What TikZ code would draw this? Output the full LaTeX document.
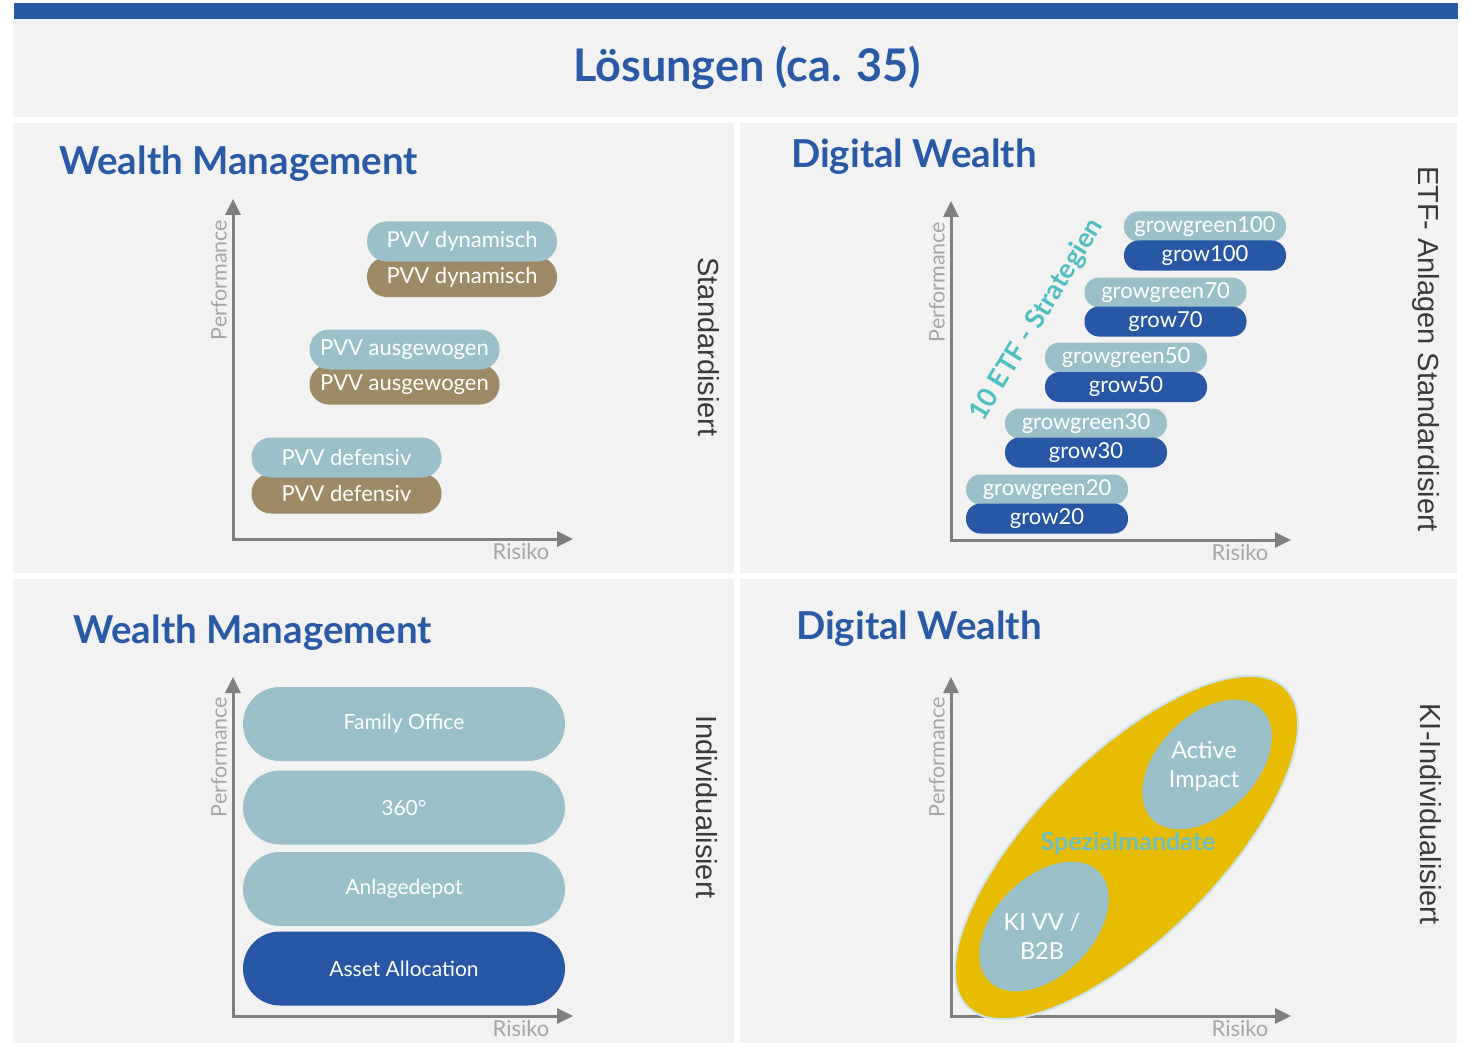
\documentclass[tikz,border=0pt]{standalone}
\usepackage{fontspec}
\setmainfont{Lato}
\newfontfamily\arialf{Liberation Sans}
\usetikzlibrary{arrows.meta,shapes.geometric}
\definecolor{panelgray}{HTML}{F2F2F2}
\definecolor{mainblue}{HTML}{2A5AA6}
\definecolor{pillteal}{HTML}{9AC0CA}
\definecolor{pillbrown}{HTML}{9E8A64}
\definecolor{pillblue}{HTML}{2858A5}
\definecolor{spyellow}{HTML}{E8BC00}
\definecolor{outlineblue}{HTML}{CFE3EE}
\definecolor{axisgray}{HTML}{7F7F7F}
\definecolor{labelgray}{HTML}{A6A6A6}
\definecolor{darklabel}{HTML}{3A3A3A}
\definecolor{etfteal}{HTML}{4FBFC2}
\definecolor{spezteal}{HTML}{6CBFC1}
\tikzset{
  panel/.style={fill=panelgray, draw=none},
  heading/.style={text=mainblue, font=\fontsize{38.5}{42}\selectfont\bfseries, inner sep=0pt, anchor=base west},
  axis/.style={draw=axisgray, line width=3pt, {Triangle[width=15pt,length=16pt]}-{Triangle[width=15pt,length=16pt]}},
  perf/.style={text=labelgray, font=\fontsize{21.5}{24}\selectfont, rotate=90, inner sep=0pt},
  risk/.style={text=labelgray, font=\fontsize{22}{24}\selectfont, inner sep=0pt},
  sidelabel/.style={text=darklabel, font=\arialf\fontsize{29}{32}\selectfont, rotate=-90, inner sep=0pt},
  pvv/.style={rectangle, rounded corners=19.5pt, minimum width=190pt, minimum height=40pt, inner sep=0pt, text=white, font=\fontsize{22}{24}\selectfont},
  etf/.style={rectangle, rounded corners=14.5pt, minimum width=162pt, minimum height=30pt, inner sep=0pt, text=white, font=\fontsize{22}{24}\selectfont},
  big/.style={rectangle, rounded corners=37pt, minimum width=322pt, minimum height=74pt, inner sep=0pt, text=white, font=\fontsize{21}{24}\selectfont},
  inner/.style={ellipse, fill=pillteal, rotate=45, minimum width=155pt, minimum height=98pt, inner sep=0pt},
  innertext/.style={text=white, font=\fontsize{23.5}{29}\selectfont, align=center, inner sep=0pt},
}
\begin{document}
\begin{tikzpicture}[x=1pt,y=-1pt]
\useasboundingbox (0,0) rectangle (1470,1043);
\fill[white] (0,0) rectangle (1470,1043);
% header
\fill[panelgray] (13,18) rectangle (1458,117);
\fill[mainblue] (14,3) rectangle (1458,19);
\node[text=mainblue, font=\fontsize{45}{48}\selectfont\bfseries, anchor=base, inner sep=0pt] (title) at (747,82) {Lösungen (ca. 35)};
% panels
\fill[panel] (13,123) rectangle (734,573);
\fill[panel] (740,123) rectangle (1457,573);
\fill[panel] (13,579) rectangle (734,1043);
\fill[panel] (740,579) rectangle (1457,1043);
% headings
\node[heading] (h1) at (59,175) {Wealth Management};
\node[heading] (h2) at (791,168) {Digital Wealth};
\node[heading] (h3) at (73,643) {Wealth Management};
\node[heading] (h4) at (796,639) {Digital Wealth};
% side labels
\node[sidelabel] (s1) at (709,347) {Standardisiert};
\node[sidelabel] (s2) at (1426,349) {ETF- Anlagen Standardisiert};
\node[sidelabel] (s3) at (707,807) {Individualisiert};
\node[sidelabel] (s4) at (1431,814) {KI-Individualisiert};

% ---------- top-left
\coordinate (tlY) at (233,199);
\coordinate (tlO) at (233,539);
\coordinate (tlX) at (573,539);
\draw[axis] (tlY) -- (tlO) -- (tlX);
\node[perf] (tlP) at (219,280) {Performance};
\node[risk] (tlR) at (521,551) {Risiko};
\node[pvv, fill=pillbrown] (dynB) at (462,277) {PVV dynamisch};
\node[pvv, fill=pillteal] (dynT) at (462,241.5) {PVV dynamisch};
\node[pvv, fill=pillbrown] (ausB) at (404.5,384.5) {PVV ausgewogen};
\node[pvv, fill=pillteal] (ausT) at (404.5,349.5) {PVV ausgewogen};
\node[pvv, fill=pillbrown] (defB) at (346.5,493.5) {PVV defensiv};
\node[pvv, fill=pillteal] (defT) at (346.5,457.5) {PVV defensiv};

% ---------- top-right
\coordinate (trY) at (951,201);
\coordinate (trO) at (951,540);
\coordinate (trX) at (1291,540);
\draw[axis] (trY) -- (trO) -- (trX);
\node[perf] (trP) at (937,282) {Performance};
\node[risk] (trR) at (1240,552) {Risiko};
\node[etf, fill=pillteal] (gg100) at (1205,226.5) {growgreen100};
\node[etf, fill=pillblue] (g100) at (1205,255.5) {grow100};
\node[etf, fill=pillteal] (gg70) at (1165.5,292.5) {growgreen70};
\node[etf, fill=pillblue] (g70) at (1165.5,321.5) {grow70};
\node[etf, fill=pillteal] (gg50) at (1126,357.5) {growgreen50};
\node[etf, fill=pillblue] (g50) at (1126,387) {grow50};
\node[etf, fill=pillteal] (gg30) at (1086,423.5) {growgreen30};
\node[etf, fill=pillblue] (g30) at (1086,452.5) {grow30};
\node[etf, fill=pillteal] (gg20) at (1047,489.5) {growgreen20};
\node[etf, fill=pillblue] (g20) at (1047,518.5) {grow20};
\node[text=etfteal, font=\fontsize{27}{30}\selectfont\bfseries, rotate=58.5, inner sep=0pt] (etfl) at (1037,320) {10 ETF - Strategien};

% ---------- bottom-left
\coordinate (blY) at (233,677);
\coordinate (blO) at (233,1016);
\coordinate (blX) at (573,1016);
\draw[axis] (blY) -- (blO) -- (blX);
\node[perf] (blP) at (219,757) {Performance};
\node[risk] (blR) at (521,1028) {Risiko};
\node[big, fill=pillteal] (fo) at (404,724) {Family Office};
\node[big, fill=pillteal] (d360) at (404,807.5) {360°};
\node[big, fill=pillteal] (ad) at (404,889) {Anlagedepot};
\node[big, fill=pillblue] (aa) at (404,968.5) {Asset Allocation};

% ---------- bottom-right
\coordinate (brY) at (951,677);
\coordinate (brO) at (951,1016);
\coordinate (brX) at (1291,1016);
\draw[axis] (brY) -- (brO) -- (brX);
\node[perf] (brP) at (937,757) {Performance};
\node[risk] (brR) at (1240,1028) {Risiko};
\node[ellipse, fill=spyellow, draw=outlineblue, line width=2pt, rotate=45, minimum width=450pt, minimum height=182pt, inner sep=0pt] (spez) at (1126.5,847.5) {};
\node[inner] (ai) at (1207,764.5) {};
\node[inner] (ki) at (1044,926.5) {};
\node[innertext] (aiT) at (1204,766) {Active\\Impact};
\node[innertext] (kiT) at (1042,936) {KI VV /\\B2B};
\node[text=spezteal, font=\fontsize{25}{28}\selectfont\bfseries, inner sep=0pt] (spzT) at (1128,843) {Spezialmandate};
\end{tikzpicture}
\end{document}
